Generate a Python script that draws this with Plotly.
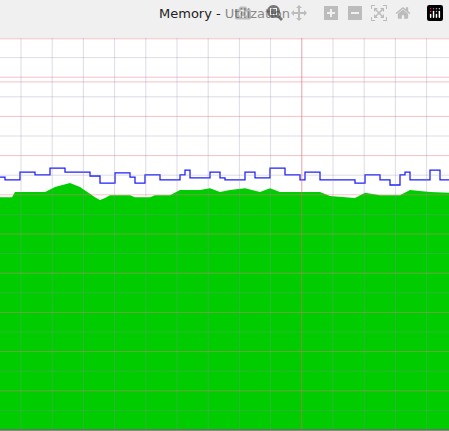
import plotly.graph_objects as go

used_x = [0,12,15,45,55,70,80,95,100,105,110,130,135,150,155,170,180,200,210,220,230,245,260,270,280,320,330,355,365,380,400,410,430,449]
used_pct = [59.4,59.4,60.7,60.7,62.0,63.0,62.0,59.4,58.7,59.2,59.9,59.9,59.4,59.4,59.9,59.9,61.2,61.2,61.7,60.7,61.2,61.7,60.7,61.7,60.7,60.7,59.7,59.2,60.5,59.9,59.9,61.2,60.7,60.5]

commit_x = [0,5,20,35,50,65,90,100,115,130,135,145,160,180,185,190,210,220,225,245,255,270,285,300,305,320,355,365,380,390,400,405,410,430,440,449]
commit_pct = [64.5,63.8,65.8,65.1,66.8,65.8,64.8,63.0,65.6,64.5,63.0,65.1,63.8,65.1,66.3,64.3,65.8,64.3,63.8,65.8,64.3,66.8,65.1,63.8,65.8,63.8,63.0,65.1,63.8,62.5,65.1,65.8,63.8,66.3,63.8,63.8]

fig = go.Figure()
fig.add_trace(go.Scatter(x=used_x, y=used_pct, fill="tozeroy", mode="none",
                         fillcolor="#00cc00", line_shape="linear"))
fig.add_trace(go.Scatter(x=commit_x, y=commit_pct, mode="lines",
                         line=dict(color="#1f1fff", width=1.3, shape="hv")))

shapes = []
for v in range(5, 100, 5):
    pink = v % 10 == 0
    shapes.append(dict(type="line", xref="paper", x0=0, x1=1, yref="y", y0=v, y1=v, layer="above",
                       line=dict(color="rgba(235,120,130,0.45)" if pink else "rgba(140,140,170,0.3)", width=1)))
shapes.append(dict(type="line", xref="paper", x0=0, x1=1, yref="y", y0=88.8, y1=88.8, layer="above",
                   line=dict(color="rgba(235,120,130,0.45)", width=1)))
shapes.append(dict(type="line", xref="paper", x0=0, x1=1, yref="y", y0=99.8, y1=99.8, layer="above",
                   line=dict(color="rgba(235,120,130,0.45)", width=1)))
for k in range(15):
    xv = 21 + 31.2 * k
    red = k == 9
    shapes.append(dict(type="line", yref="paper", y0=0, y1=1, xref="x", x0=xv, x1=xv, layer="above",
                       line=dict(color="rgba(220,100,110,0.6)" if red else "rgba(140,140,170,0.3)", width=1)))
shapes.append(dict(type="line", xref="paper", yref="paper", x0=0, x1=1, y0=0, y1=0,
                   line=dict(color="#6a6a6a", width=1.5), layer="above"))

fig.update_layout(
    width=449, height=431, margin=dict(l=0, r=0, t=38, b=1),
    paper_bgcolor="#f0f0f0", plot_bgcolor="white", showlegend=False,
    shapes=shapes,
    title=dict(text="Memory - Utilization", x=0.5, xanchor="center", y=1, yref="container",
               yanchor="top", pad=dict(t=9), font=dict(family="DejaVu Sans", size=13, color="#222")),
    xaxis=dict(range=[0, 449], showgrid=False, showticklabels=False, zeroline=False, ticks=""),
    yaxis=dict(range=[0, 100], showgrid=False, showticklabels=False, zeroline=False, ticks=""),
)
fig.write_html("out.html", post_script="document.body.style.margin='0';document.body.style.overflow='hidden';")
